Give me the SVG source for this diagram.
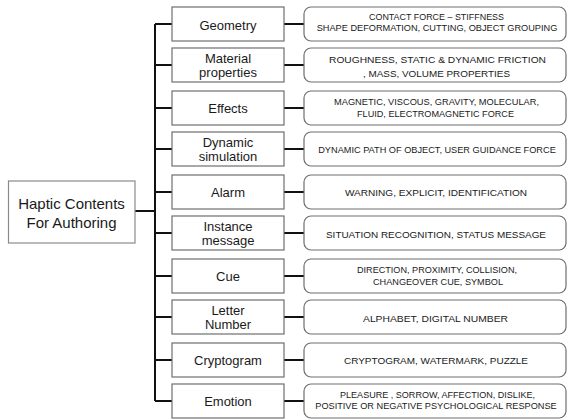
<svg xmlns="http://www.w3.org/2000/svg" width="568" height="419" viewBox="0 0 568 419">
<style>
.root{fill:#fff;stroke:#8a8a8a;stroke-width:1.2}
.mid{fill:#fff;stroke:#6e6e6e;stroke-width:1.2}
.det{fill:#fff;stroke:#6e6e6e;stroke-width:1.2}
.c{stroke:#111;stroke-width:2;fill:none}
text{font-family:"Liberation Sans",Arial,sans-serif;fill:#1a1a1a;text-anchor:middle}
.rt{font-size:15px}
.mt{font-size:13px}
.dt{font-size:9.8px}
.dw{font-size:9.2px}
</style>
<rect width="568" height="419" fill="#fff"/>
<g id="connectors">
<path class="c" d="M135,211 H155 M155,24 V401"/>
<path class="c" d="M155,24 H172 M155,65 H172 M155,108 H172 M155,149 H172 M155,192 H172 M155,233 H172 M155,276 H172 M155,317 H172 M155,360 H172 M155,401 H172"/>
<path class="c" d="M284,24 H304 M284,65 H304 M284,108 H304 M284,149 H304 M284,192 H304 M284,233 H304 M284,276 H304 M284,317 H304 M284,360 H304 M284,401 H304"/>
</g>
<g id="root">
<rect class="root" x="8.5" y="181" width="126.5" height="62"/>
<text class="rt" x="71.5" y="209.3">Haptic Contents</text>
<text class="rt" x="71.5" y="228.3">For Authoring</text>
</g>
<g id="n-geometry">
<rect class="mid" x="172" y="7" width="112" height="34"/>
<text class="mt" x="228" y="29.5">Geometry</text>
<rect class="det" x="304" y="7" width="262" height="34" rx="7"/>
<text class="dt" x="436.5" y="20" textLength="135" lengthAdjust="spacingAndGlyphs">CONTACT FORCE – STIFFNESS</text>
<text class="dw" x="437" y="31.3">SHAPE DEFORMATION, CUTTING, OBJECT GROUPING</text>
</g>
<g id="n-material">
<rect class="mid" x="172" y="48" width="112" height="34"/>
<text class="mt" x="228" y="63.3">Material</text>
<text class="mt" x="228" y="77.3">properties</text>
<rect class="det" x="304" y="48" width="262" height="34" rx="7"/>
<text class="dt" x="437.5" y="63.3" textLength="217" lengthAdjust="spacingAndGlyphs">ROUGHNESS, STATIC &amp; DYNAMIC FRICTION</text>
<text class="dt" x="436.5" y="77.3" textLength="147" lengthAdjust="spacingAndGlyphs">, MASS, VOLUME PROPERTIES</text>
</g>
<g id="n-effects">
<rect class="mid" x="172" y="91" width="112" height="34"/>
<text class="mt" x="228" y="113">Effects</text>
<rect class="det" x="304" y="91" width="262" height="34" rx="7"/>
<text class="dt" x="436.5" y="105.3" textLength="205" lengthAdjust="spacingAndGlyphs">MAGNETIC, VISCOUS, GRAVITY, MOLECULAR,</text>
<text class="dt" x="435.5" y="116.6" textLength="157" lengthAdjust="spacingAndGlyphs">FLUID, ELECTROMAGNETIC FORCE</text>
</g>
<g id="n-dynamic">
<rect class="mid" x="172" y="132" width="112" height="34"/>
<text class="mt" x="228" y="147.3">Dynamic</text>
<text class="mt" x="228" y="161.3">simulation</text>
<rect class="det" x="304" y="132" width="262" height="34" rx="7"/>
<text class="dw" x="437" y="153.3">DYNAMIC PATH OF OBJECT, USER GUIDANCE FORCE</text>
</g>
<g id="n-alarm">
<rect class="mid" x="172" y="175" width="112" height="34"/>
<text class="mt" x="228" y="197">Alarm</text>
<rect class="det" x="304" y="175" width="262" height="34" rx="7"/>
<text class="dt" x="436" y="195.5" textLength="182" lengthAdjust="spacingAndGlyphs">WARNING, EXPLICIT, IDENTIFICATION</text>
</g>
<g id="n-instance">
<rect class="mid" x="172" y="216" width="112" height="34"/>
<text class="mt" x="228" y="231.3">Instance</text>
<text class="mt" x="228" y="245.3">message</text>
<rect class="det" x="304" y="216" width="262" height="34" rx="7"/>
<text class="dt" x="436" y="237.5" textLength="220" lengthAdjust="spacingAndGlyphs">SITUATION RECOGNITION, STATUS MESSAGE</text>
</g>
<g id="n-cue">
<rect class="mid" x="172" y="259" width="112" height="34"/>
<text class="mt" x="228" y="281">Cue</text>
<rect class="det" x="304" y="259" width="262" height="34" rx="7"/>
<text class="dt" x="437" y="273.3" textLength="160" lengthAdjust="spacingAndGlyphs">DIRECTION, PROXIMITY, COLLISION,</text>
<text class="dt" x="438" y="284.6" textLength="130" lengthAdjust="spacingAndGlyphs">CHANGEOVER CUE, SYMBOL</text>
</g>
<g id="n-letter">
<rect class="mid" x="172" y="300" width="112" height="34"/>
<text class="mt" x="228" y="315.3">Letter</text>
<text class="mt" x="228" y="329.3">Number</text>
<rect class="det" x="304" y="300" width="262" height="34" rx="7"/>
<text class="dt" x="435.5" y="321.5" textLength="145" lengthAdjust="spacingAndGlyphs">ALPHABET, DIGITAL NUMBER</text>
</g>
<g id="n-cryptogram">
<rect class="mid" x="172" y="343" width="112" height="34"/>
<text class="mt" x="228" y="365">Cryptogram</text>
<rect class="det" x="304" y="343" width="262" height="34" rx="7"/>
<text class="dt" x="436" y="363.5" textLength="184" lengthAdjust="spacingAndGlyphs">CRYPTOGRAM, WATERMARK, PUZZLE</text>
</g>
<g id="n-emotion">
<rect class="mid" x="172" y="384" width="112" height="34"/>
<text class="mt" x="228" y="406">Emotion</text>
<rect class="det" x="304" y="384" width="262" height="34" rx="7"/>
<text class="dt" x="437.5" y="398" textLength="195" lengthAdjust="spacingAndGlyphs">PLEASURE , SORROW, AFFECTION, DISLIKE,</text>
<text class="dw" x="436" y="409.3">POSITIVE OR NEGATIVE PSYCHOLOGICAL RESPONSE</text>
</g>
</svg>
